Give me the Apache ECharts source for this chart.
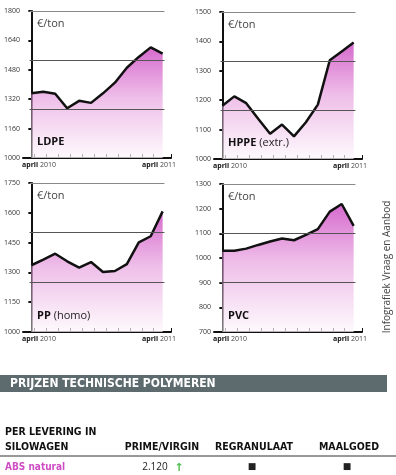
<!DOCTYPE html>
<html>
<head>
<meta charset="utf-8">
<script src="https://cdn.jsdelivr.net/npm/echarts@6/dist/echarts.min.js"></script>
<style>
    html, body { margin: 0; padding: 0; background: #fff; }
    #main { width: 396px; height: 475px; }
</style>
</head>
<body>
<div id="main"></div>
<script>
// maanden april 2010 - april 2011
var months = ['apr', 'mei', 'jun', 'jul', 'aug', 'sep', 'okt', 'nov', 'dec', 'jan', 'feb', 'mrt'];

var ldpe = [1352, 1361, 1350, 1271, 1311, 1300, 1352, 1410, 1491, 1550, 1602, 1568];
var hppe = [1181, 1213, 1190, 1137, 1086, 1117, 1077, 1125, 1185, 1336, 1366, 1396];
var pp = [1336, 1364, 1394, 1356, 1324, 1352, 1302, 1307, 1342, 1451, 1482, 1607];
var pvc = [1029, 1029, 1038, 1053, 1067, 1079, 1072, 1094, 1117, 1188, 1219, 1130];

var ldpeTicks = [1000, 1160, 1320, 1480, 1640, 1800];
var hppeTicks = [1000, 1100, 1200, 1300, 1400, 1500];
var ppTicks = [1000, 1150, 1300, 1450, 1600, 1750];
var pvcTicks = [700, 800, 900, 1000, 1100, 1200, 1300];

// horizontale hulplijnen
var ldpeLines = [1800, 1533, 1267];
var hppeLines = [1500, 1333, 1167];
var ppLines = [1750, 1500, 1250];
var pvcLines = [1300, 1100, 900];

var tableCols = ['PRIME/VIRGIN', 'REGRANULAAT', 'MAALGOED'];
var absRow = ['2.120', '\u25A0', '\u25A0'];

var charts = [
    {name: 'LDPE', sub: '', data: ldpe, ticks: ldpeTicks, lines: ldpeLines, grid: {left: 23, top: 11, width: 148, height: 147}},
    {name: 'HPPE', sub: ' (extr.)', data: hppe, ticks: hppeTicks, lines: hppeLines, grid: {left: 214, top: 12, width: 148, height: 147}},
    {name: 'PP', sub: ' (homo)', data: pp, ticks: ppTicks, lines: ppLines, grid: {left: 23, top: 183, width: 148, height: 149}},
    {name: 'PVC', sub: '', data: pvc, ticks: pvcTicks, lines: pvcLines, grid: {left: 214, top: 184, width: 148, height: 148}}
];

var font = 'Open Sans';
var condFont = "'DejaVu Sans Condensed', 'Liberation Sans Narrow', Roboto";

var xTicks = months.map(function (m, i) { return i < months.length - 1 ? i + 0.25 : 11.7; });

var grids = [], xAxes = [], yAxes = [], series = [], graphics = [];

charts.forEach(function (c, k) {
    grids.push(c.grid);
    xAxes.push({
        type: 'value',
        gridIndex: k,
        min: -0.7,
        max: 11.7,
        axisLine: {lineStyle: {color: '#111', width: 2}},
        axisTick: {inside: true, length: 4, lineStyle: {color: '#111', width: 1}, customValues: xTicks},
        axisLabel: {show: false},
        splitLine: {show: false}
    });
    yAxes.push({
        type: 'value',
        gridIndex: k,
        min: c.ticks[0],
        max: c.ticks[c.ticks.length - 1],
        axisLine: {show: true, lineStyle: {color: '#111', width: 2}},
        axisTick: {show: true, length: 3, lineStyle: {color: '#111', width: 2}, customValues: c.ticks},
        axisLabel: {
            fontSize: 7, color: '#333', fontFamily: font, margin: 3, customValues: c.ticks,
            formatter: function (v) { return String(v); }
        },
        splitLine: {show: false}
    });
    series.push({
        type: 'line',
        xAxisIndex: k,
        yAxisIndex: k,
        data: c.data.map(function (v, i) { return [i, v]; }),
        symbol: 'none',
        lineStyle: {color: '#111', width: 2.5},
        areaStyle: {
            color: new echarts.graphic.LinearGradient(0, 0, 0, 1, [
                {offset: 0, color: '#c52ab8'},
                {offset: 0.45, color: '#e7a2df'},
                {offset: 1, color: '#fdf7fc'}
            ])
        },
        markLine: {
            silent: true,
            symbol: 'none',
            label: {show: false},
            data: c.lines.map(function (v, j) {
                return [
                    {coord: [-0.15, v], lineStyle: {color: j === 0 ? '#888' : '#555', width: 1, type: 'solid'}},
                    {coord: [11.15, v]}
                ];
            })
        }
    });

    var left = c.grid.left, top = c.grid.top, bottom = c.grid.top + c.grid.height;
    graphics.push({
        type: 'text', left: left + 14, top: top + 7, z: 100,
        style: {text: '\u20AC/ton', font: '11px ' + font, fill: '#444'}
    });
    graphics.push({
        type: 'text', left: left + 14, top: bottom - 22, z: 100,
        style: {
            text: '{b|' + c.name + '}' + c.sub,
            font: '11px ' + font, fill: '#222',
            rich: {b: {fontWeight: 'bold', fontSize: 11, fontFamily: font, fill: '#111'}}
        }
    });
    graphics.push({
        type: 'text', left: left - 1, top: bottom + 3, z: 100,
        style: {
            text: '{b|april} 2010', font: '7px ' + font, fill: '#444',
            rich: {b: {fontWeight: 'bold', fontSize: 7, fontFamily: font, fill: '#111'}}
        }
    });
    graphics.push({
        type: 'text', left: left + 119, top: bottom + 3, z: 100,
        style: {
            text: '{b|april} 2011', font: '7px ' + font, fill: '#444',
            rich: {b: {fontWeight: 'bold', fontSize: 7, fontFamily: font, fill: '#111'}}
        }
    });
});

// bron
graphics.push({
    type: 'text', x: 387, y: 267, rotation: Math.PI / 2,
    style: {text: 'Infografiek Vraag en Aanbod', font: '10px ' + font, fill: '#444', align: 'center', verticalAlign: 'middle'}
});

// tabel technische polymeren
graphics.push({
    type: 'rect', shape: {x: 0, y: 375, width: 387, height: 17}, style: {fill: '#5e6b6e'}
});
graphics.push({
    type: 'text', x: 10, y: 384,
    style: {text: 'PRIJZEN TECHNISCHE POLYMEREN', font: 'bold 12px ' + condFont, fill: '#fff', verticalAlign: 'middle'}
});
graphics.push({
    type: 'text', x: 5, y: 432,
    style: {text: 'PER LEVERING IN', font: 'bold 10.5px ' + condFont, fill: '#111', verticalAlign: 'middle'}
});
graphics.push({
    type: 'text', x: 5, y: 447,
    style: {text: 'SILOWAGEN', font: 'bold 10.5px ' + condFont, fill: '#111', verticalAlign: 'middle'}
});
var colX = [162, 254, 349];
tableCols.forEach(function (t, i) {
    graphics.push({
        type: 'text', x: colX[i], y: 447,
        style: {text: t, font: 'bold 10.5px ' + condFont, fill: '#111', align: 'center', verticalAlign: 'middle'}
    });
});
graphics.push({
    type: 'line', shape: {x1: 0, y1: 456, x2: 396, y2: 456}, style: {stroke: '#333', lineWidth: 1}
});
graphics.push({
    type: 'text', x: 5, y: 467,
    style: {text: 'ABS natural', font: 'bold 10px ' + condFont, fill: '#cf4cc3', verticalAlign: 'middle'}
});
absRow.forEach(function (t, i) {
    var isNum = i === 0;
    graphics.push({
        type: 'text', x: isNum ? 155 : colX[i] - 2, y: 467,
        style: {text: t, font: (isNum ? '10px ' + font : '9px DejaVu Sans'), fill: '#222', align: 'center', verticalAlign: 'middle'}
    });
});
graphics.push({
    type: 'text', x: 179, y: 468,
    style: {text: '\u2191', font: 'bold 11px DejaVu Sans', fill: '#4cbb4c', align: 'center', verticalAlign: 'middle'}
});

var myChart = echarts.init(document.getElementById('main'));
myChart.setOption({
    backgroundColor: '#fff',
    animation: false,
    grid: grids,
    xAxis: xAxes,
    yAxis: yAxes,
    series: series,
    graphic: graphics
});
</script>
</body>
</html>
